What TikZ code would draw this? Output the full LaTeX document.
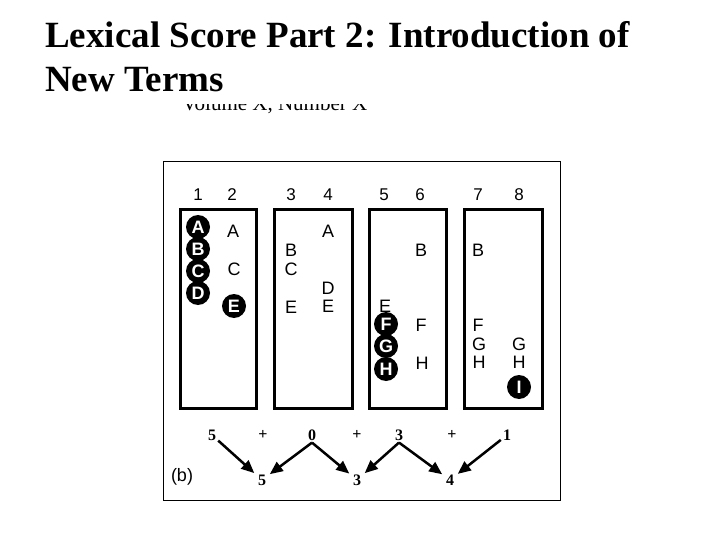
\documentclass[tikz,border=0pt]{standalone}
\usepackage{fontspec}
\setmainfont{Liberation Serif}
\setsansfont{Liberation Sans}
\usepackage{tikz}
\usetikzlibrary{arrows.meta, positioning}
\tikzset{
  colnum/.style   = {font=\sffamily\fontsize{17}{17}\selectfont, inner sep=0pt},
  term/.style     = {font=\sffamily\fontsize{18}{18}\selectfont, inner sep=0pt},
  newterm/.style  = {circle, fill=black, text=white, minimum size=24pt, inner sep=0pt,
                     font=\sffamily\bfseries\fontsize{18}{18}\selectfont},
  tally/.style    = {font=\bfseries\fontsize{16}{16}\selectfont, inner sep=2pt},
  listbox/.style  = {draw=black, line width=3pt},
  sumarrow/.style = {-{Triangle[length=13pt,width=11pt]}, line width=2.5pt, shorten >=2pt},
  headline/.style = {anchor=base west, inner sep=0pt, font=\bfseries\fontsize{37}{44}\selectfont},
}

\begin{document}
\begin{tikzpicture}[x=1pt, y=-1pt]
        \useasboundingbox (0,0) rectangle (720,540);
        % title
        \node[headline] (title)  at (45,48) {Lexical Score Part 2: Introduction of};
        \node[headline] (title2) at (45,92) {New Terms};
        \begin{scope}
          \clip (150,105) rectangle (420,120);
          \node[anchor=base west, inner sep=0pt, font=\fontsize{21}{21}\selectfont] (vol) at (182,111)
               {Volume X, Number X};
        \end{scope}
        % frame and the four lists
        \draw[line width=1pt] (163,162) rectangle (560,500);
        \draw[listbox] (180,210) rectangle (256,408);
        \draw[listbox] (274,210) rectangle (352,408);
        \draw[listbox] (369,210) rectangle (446,408);
        \draw[listbox] (464,210) rectangle (542,408);
        % column numbers
        \node[colnum] (n1) at (198,195) {1};
        \node[colnum] (n2) at (232,195) {2};
        \node[colnum] (n3) at (291,195) {3};
        \node[colnum] (n4) at (328,195) {4};
        \node[colnum] (n5) at (384,195) {5};
        \node[colnum] (n6) at (420,195) {6};
        \node[colnum] (n7) at (478,195) {7};
        \node[colnum] (n8) at (519,195) {8};
        % list 1
        \node[newterm] (a1) at (198,227) {A};
        \node[newterm] (b1) at (198,249) {B};
        \node[newterm] (c1) at (198,271) {C};
        \node[newterm] (d1) at (198,293) {D};
        \node[term]    (a2) at (233,231) {A};
        \node[term]    (c2) at (234,269) {C};
        \node[newterm] (e2) at (234,306) {E};
        % list 2
        \node[term] (b3) at (291,250) {B};
        \node[term] (c3) at (291,269) {C};
        \node[term] (e3) at (291,307) {E};
        \node[term] (a4) at (328,231) {A};
        \node[term] (d4) at (328,288) {D};
        \node[term] (e4) at (328,306) {E};
        % list 3
        \node[term]    (e5) at (385,306) {E};
        \node[newterm] (f5) at (386,324) {F};
        \node[newterm] (g5) at (386,346) {G};
        \node[newterm] (h5) at (386,369) {H};
        \node[term]    (b6) at (421,250) {B};
        \node[term]    (f6) at (421,325) {F};
        \node[term]    (h6) at (422,363) {H};
        % list 4
        \node[term]    (b7) at (478,250) {B};
        \node[term]    (f7) at (478,325) {F};
        \node[term]    (g7) at (479,344) {G};
        \node[term]    (h7) at (479,362) {H};
        \node[term]    (g8) at (519,344) {G};
        \node[term]    (h8) at (519,362) {H};
        \node[newterm] (i8) at (519,387) {I};
        % new terms per list, summed over pairs
        \node[tally] (t1) at (212,435) {5};
        \node[tally] (p1) at (263,435) {+};
        \node[tally] (t2) at (312,435) {0};
        \node[tally] (p2) at (357,435) {+};
        \node[tally] (t3) at (399,435) {3};
        \node[tally] (p3) at (452,435) {+};
        \node[tally] (t4) at (507,435) {1};
        \node[tally] (s1) at (262,480) {5};
        \node[tally] (s2) at (357,480) {3};
        \node[tally] (s3) at (450,480) {4};
        \node[font=\sffamily\fontsize{18}{18}\selectfont] (lab) at (182,477) {(b)};
        \draw[sumarrow] (t1) -- (s1);
        \draw[sumarrow] (t2.south) -- (s1);
        \draw[sumarrow] (t2.south) -- (s2);
        \draw[sumarrow] (t3.south) -- (s2);
        \draw[sumarrow] (t3.south) -- (s3);
        \draw[sumarrow] (t4) -- (s3);
    \end{tikzpicture}
\end{document}
